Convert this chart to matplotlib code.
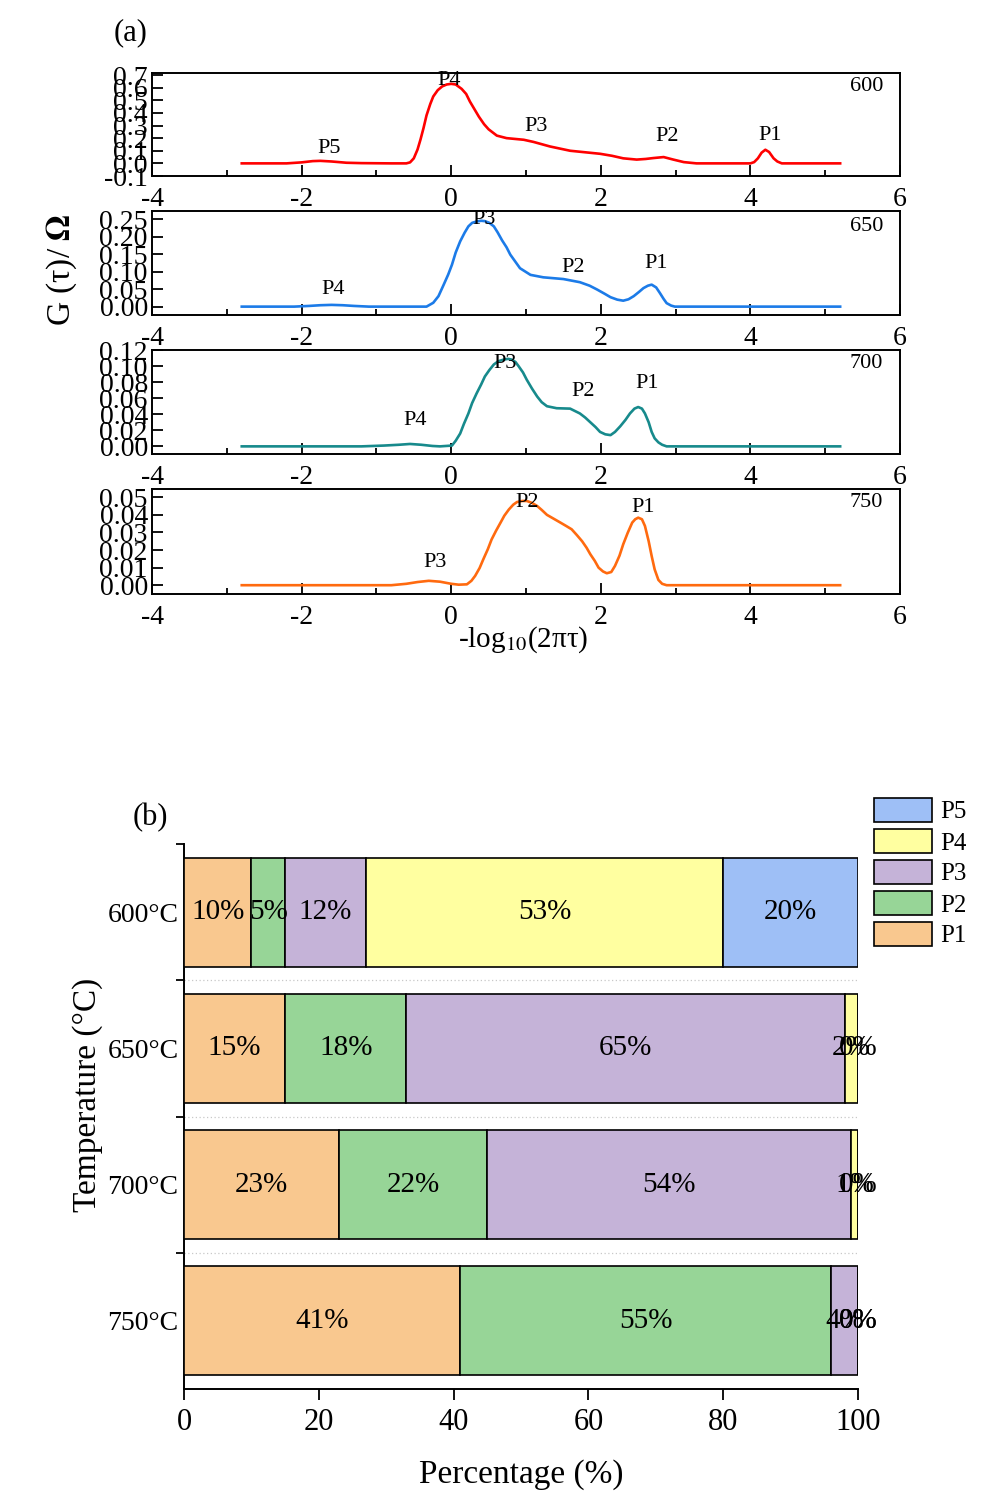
import matplotlib
matplotlib.use("Agg")
import matplotlib.pyplot as plt
from matplotlib.ticker import MultipleLocator, FixedLocator

plt.rcParams['font.family'] = ['Liberation Serif', 'DejaVu Serif']
plt.rcParams['mathtext.fontset'] = 'stix'
plt.rcParams['axes.unicode_minus'] = False

# ---------------- Panel (a) data: DRT curves ----------------
x600 = [-2.8, -2.2, -2.0, -1.85, -1.75, -1.6, -1.4, -1.2, -0.8, -0.6, -0.55, -0.5, -0.45, -0.41,
        -0.37, -0.33, -0.28, -0.24, -0.18, -0.12, -0.06, 0.0, 0.06, 0.14, 0.2, 0.25, 0.31, 0.37,
        0.44, 0.5, 0.61, 0.74, 0.97, 1.1, 1.32, 1.59, 1.99, 2.15, 2.3, 2.48, 2.6, 2.7, 2.84,
        2.97, 3.11, 3.28, 4.0, 4.05, 4.1, 4.15, 4.2, 4.25, 4.31, 4.36, 4.42, 5.2]
g600 = [0.0, 0.0, 0.008, 0.018, 0.02, 0.015, 0.005, 0.002, 0.0, 0.0, 0.008, 0.04, 0.11, 0.19,
        0.28, 0.38, 0.47, 0.53, 0.58, 0.61, 0.625, 0.63, 0.625, 0.59, 0.55, 0.49, 0.43, 0.37,
        0.31, 0.27, 0.22, 0.2, 0.187, 0.17, 0.134, 0.1, 0.076, 0.06, 0.04, 0.03, 0.035, 0.042, 0.05,
        0.03, 0.01, 0.0, 0.0, 0.01, 0.04, 0.085, 0.108, 0.09, 0.04, 0.015, 0.0, 0.0]

x650 = [-2.8, -2.1, -1.9, -1.75, -1.6, -1.45, -1.3, -1.1, -0.6, -0.33, -0.24, -0.17, -0.1, -0.04,
        0.01, 0.06, 0.12, 0.18, 0.23, 0.28, 0.34, 0.4, 0.45, 0.51, 0.57, 0.62, 0.68, 0.74, 0.79,
        0.86, 0.92, 1.06, 1.23, 1.5, 1.72, 1.85, 1.95, 2.05, 2.13, 2.22, 2.3, 2.37, 2.44, 2.51,
        2.57, 2.63, 2.68, 2.74, 2.79, 2.84, 2.88, 2.94, 2.99, 5.2]
g650 = [0.0, 0.0, 0.002, 0.004, 0.005, 0.004, 0.002, 0.0, 0.0, 0.0, 0.011, 0.03, 0.063, 0.092,
        0.12, 0.155, 0.187, 0.212, 0.23, 0.24, 0.244, 0.246, 0.245, 0.24, 0.23, 0.213, 0.19, 0.17,
        0.149, 0.128, 0.11, 0.091, 0.084, 0.079, 0.07, 0.06, 0.049, 0.037, 0.027, 0.02, 0.017, 0.021,
        0.03, 0.042, 0.053, 0.06, 0.063, 0.055, 0.039, 0.022, 0.01, 0.003, 0.0, 0.0]

x700 = [-2.8, -1.2, -0.9, -0.7, -0.55, -0.4, -0.25, -0.15, 0.01, 0.06, 0.12, 0.17, 0.23, 0.28,
        0.34, 0.4, 0.45, 0.51, 0.57, 0.63, 0.7, 0.76, 0.81, 0.86, 0.9, 0.96, 1.01, 1.08, 1.15,
        1.21, 1.28, 1.41, 1.59, 1.72, 1.79, 1.86, 1.93, 1.99, 2.06, 2.13, 2.19, 2.26, 2.33, 2.39,
        2.45, 2.5, 2.55, 2.59, 2.64, 2.68, 2.72, 2.77, 2.82, 2.88, 5.2]
g700 = [0.0, 0.0, 0.001, 0.002, 0.003, 0.002, 0.0005, 0.0, 0.001, 0.007, 0.016, 0.028, 0.041, 0.054,
        0.066, 0.077, 0.087, 0.095, 0.102, 0.106, 0.108, 0.109, 0.108, 0.105, 0.1, 0.092, 0.083, 0.072,
        0.062, 0.055, 0.05, 0.0475, 0.047, 0.041, 0.036, 0.03, 0.024, 0.018, 0.015, 0.014, 0.018,
        0.025, 0.033, 0.041, 0.047, 0.049, 0.047, 0.041, 0.03, 0.018, 0.01, 0.005, 0.002, 0.0, 0.0]

x750 = [-2.8, -0.8, -0.6, -0.45, -0.3, -0.15, 0.0, 0.1, 0.21, 0.27, 0.32, 0.38, 0.43, 0.49,
        0.54, 0.6, 0.66, 0.71, 0.77, 0.83, 0.88, 0.95, 1.01, 1.08, 1.15, 1.21, 1.28, 1.37, 1.46,
        1.54, 1.61, 1.68, 1.75, 1.81, 1.86, 1.92, 1.97, 2.03, 2.08, 2.14, 2.19, 2.25, 2.3, 2.36,
        2.42, 2.46, 2.5, 2.55, 2.59, 2.64, 2.68, 2.72, 2.77, 2.82, 2.88, 5.2]
g750 = [0.0, 0.0, 0.0008, 0.0018, 0.0025, 0.002, 0.0008, 0.0003, 0.0005, 0.0025, 0.0053, 0.0098,
        0.0148, 0.0205, 0.026, 0.031, 0.0356, 0.0395, 0.043, 0.0458, 0.0473, 0.0479, 0.0479, 0.0468,
        0.045, 0.0428, 0.04, 0.0378, 0.0356, 0.0336, 0.0318, 0.0285, 0.025, 0.0213, 0.0176, 0.0138,
        0.01, 0.0078, 0.0068, 0.0075, 0.011, 0.0168, 0.0233, 0.0298, 0.0356, 0.0375, 0.0384, 0.0375,
        0.0337, 0.025, 0.0166, 0.009, 0.003, 0.0008, 0.0, 0.0]

temps_a = ['600', '650', '700', '750']
curve_colors = ['#FF0000', '#1C7BE8', '#178A8C', '#FF6A0F']
ylims = [(-0.1, 0.716), (-0.024, 0.274), (-0.0095, 0.12), (-0.005, 0.0547)]
yticks = [[-0.1, 0.0, 0.1, 0.2, 0.3, 0.4, 0.5, 0.6, 0.7],
          [0.0, 0.05, 0.10, 0.15, 0.20, 0.25],
          [0.0, 0.02, 0.04, 0.06, 0.08, 0.10, 0.12],
          [0.0, 0.01, 0.02, 0.03, 0.04, 0.05]]
yfmt = ['{:.1f}', '{:.2f}', '{:.2f}', '{:.2f}']

peak_names = [['P5', 'P4', 'P3', 'P2', 'P1'],
              ['P4', 'P3', 'P2', 'P1'],
              ['P4', 'P3', 'P2', 'P1'],
              ['P3', 'P2', 'P1']]
peak_x = [[-1.63, -0.03, 1.14, 2.89, 4.26],
          [-1.58, 0.44, 1.63, 2.74],
          [-0.48, 0.72, 1.76, 2.62],
          [-0.21, 1.02, 2.57]]
peak_y = [[0.12, 0.66, 0.29, 0.21, 0.22],
          [0.048, 0.25, 0.113, 0.125],
          [0.032, 0.103, 0.068, 0.078],
          [0.0127, 0.0473, 0.044]]
temp_label_y = [0.61, 0.23, 0.103, 0.0468]

xs = [x600, x650, x700, x750]
gs = [g600, g650, g700, g750]

# ---------------- Panel (b) data: percentages ----------------
temps_b = ['600°C', '650°C', '700°C', '750°C']
P1 = [10, 15, 23, 41]
P2 = [5, 18, 22, 55]
P3 = [12, 65, 54, 4]
P4 = [53, 2, 1, 0]
P5 = [20, 0, 0, 0]
series_names = ['P1', 'P2', 'P3', 'P4', 'P5']
bar_colors = ['#F9C88F', '#97D597', '#C5B3D8', '#FFFFA0', '#9EBFF6']

W, H = 981, 1492
fig = plt.figure(figsize=(W / 100, H / 100), dpi=100)

a_left, a_right = 152, 900
a_rows = [(73, 176), (211, 315), (350, 454), (489, 594)]

for i in range(4):
    top, bot = a_rows[i]
    ax = fig.add_axes([a_left / W, 1 - bot / H, (a_right - a_left) / W, (bot - top) / H])
    ax.plot(xs[i], gs[i], color=curve_colors[i], lw=1.9, solid_joinstyle='round')
    ax.set_xlim(-4, 6)
    ax.set_ylim(*ylims[i])
    ax.xaxis.set_major_locator(MultipleLocator(2))
    ax.xaxis.set_minor_locator(MultipleLocator(1))
    ax.yaxis.set_major_locator(FixedLocator(yticks[i]))
    ax.set_yticklabels([yfmt[i].format(v) for v in yticks[i]])
    ax.tick_params(axis='both', which='major', direction='in', length=8, width=1.3,
                   labelsize=20)
    ax.tick_params(axis='x', which='major', pad=8)
    ax.tick_params(axis='y', which='major', pad=3)
    ax.tick_params(axis='x', which='minor', direction='in', length=4, width=1.3)
    for s in ax.spines.values():
        s.set_linewidth(1.4)
    for name, px, py in zip(peak_names[i], peak_x[i], peak_y[i]):
        ax.text(px, py, name, ha='center', va='center', fontsize=16)
    ax.text(5.55, temp_label_y[i], temps_a[i], ha='center', va='center', fontsize=16)
    ax.patch.set_alpha(0)

fig.text(131 / W, 1 - 33 / H, '(a)', ha='center', va='center', fontsize=22)
fig.text(62 / W, 1 - 270 / H, r'G (τ)/ $\mathbf{\Omega}$', ha='center', va='center',
         rotation=90, fontsize=24)
fig.text(523 / W, 1 - 640 / H, r'-log$_{\mathrm{10}}$(2πτ)', ha='center', va='center', fontsize=21)

# ---------------- Panel (b) ----------------
b_left, b_right, b_top, b_bot = 184, 858, 844, 1389
axb = fig.add_axes([b_left / W, 1 - b_bot / H, (b_right - b_left) / W, (b_bot - b_top) / H])
ypos = [3, 2, 1, 0]
series = [P1, P2, P3, P4, P5]
left = [0, 0, 0, 0]
handles = []
for name, vals, col in zip(series_names, series, bar_colors):
    bars = axb.barh(ypos, vals, left=left, height=0.8, color=col, edgecolor='black',
                    linewidth=1.2, label=name, zorder=3)
    handles.append(bars)
    for yy, v, l in zip(ypos, vals, left):
        axb.text(l + v / 2, yy, f'{v}%', ha='center', va='center', fontsize=21, zorder=5)
    left = [l + v for l, v in zip(left, vals)]

axb.set_xlim(0, 100)
axb.set_ylim(-0.5, 3.5)
axb.set_yticks(ypos)
axb.set_yticklabels(temps_b)
axb.yaxis.set_minor_locator(FixedLocator([0.5, 1.5, 2.5, 3.5]))
axb.tick_params(axis='y', which='major', length=0, labelsize=20, pad=4)
axb.tick_params(axis='y', which='minor', direction='out', length=6, width=1.3)
axb.set_xticks([0, 20, 40, 60, 80, 100])
axb.tick_params(axis='x', which='major', direction='out', length=8, width=1.3, labelsize=22, pad=6)
for yy in [0.5, 1.5, 2.5]:
    axb.axhline(yy, color='#C8C8C8', lw=0.9, ls=(0, (1, 2)), zorder=1)
axb.spines['top'].set_visible(False)
axb.spines['right'].set_visible(False)
axb.spines['left'].set_linewidth(1.4)
axb.spines['bottom'].set_linewidth(1.4)

leg = fig.legend(handles[::-1], series_names[::-1], loc='upper left',
                 bbox_to_anchor=(864 / W, 1 - 788 / H), frameon=False, fontsize=18,
                 handlelength=2.3, handleheight=1.1, labelspacing=0.22, handletextpad=0.35,
                 borderaxespad=0)

fig.text(150 / W, 1 - 818 / H, '(b)', ha='center', va='center', fontsize=22)
fig.text(88 / W, 1 - 1095 / H, 'Temperature (°C)', ha='center', va='center', rotation=90,
         fontsize=24)
fig.text(521 / W, 1 - 1475 / H, 'Percentage (%)', ha='center', va='center', fontsize=24)

fig.savefig('out.png', dpi=100)
